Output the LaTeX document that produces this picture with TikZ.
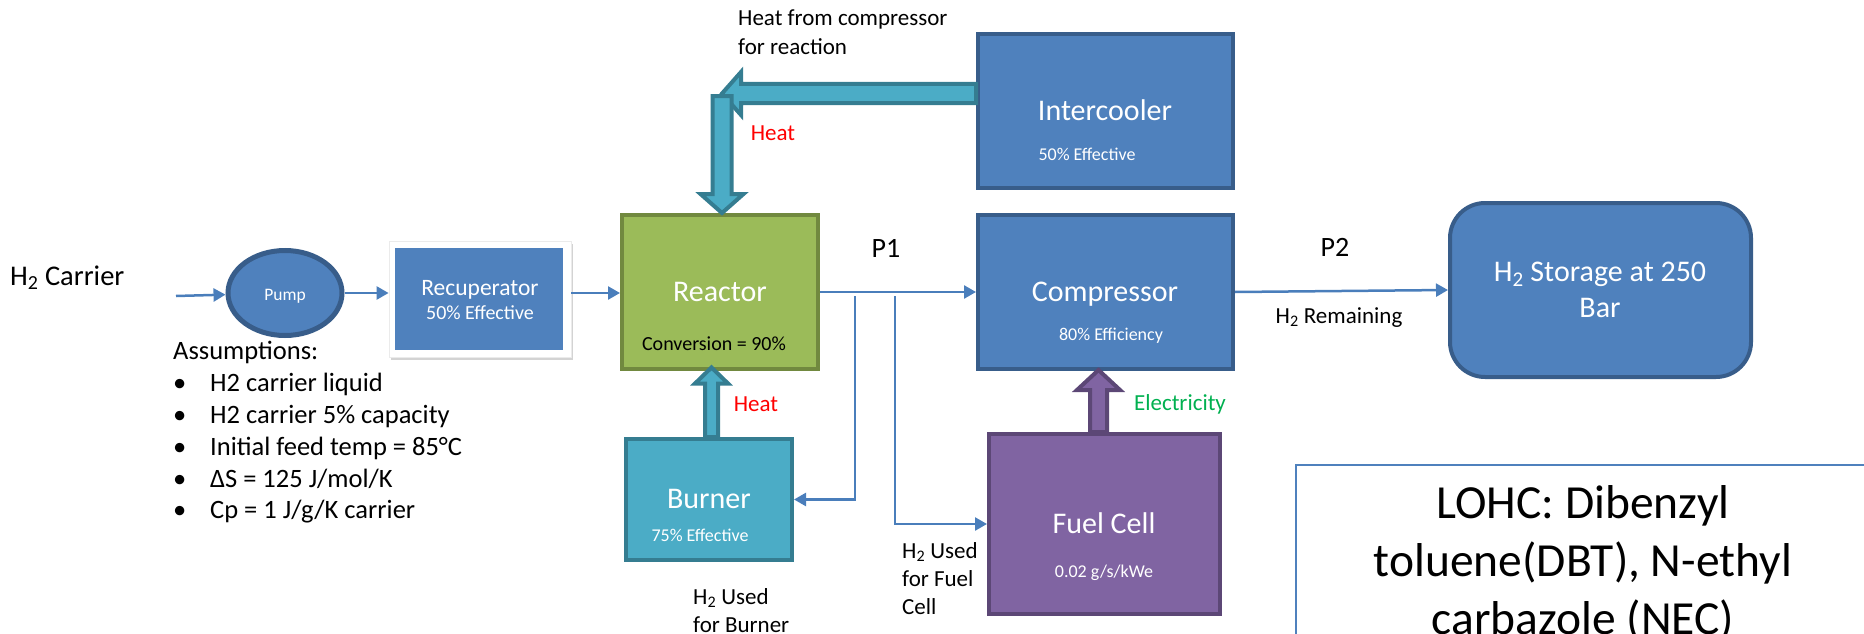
\documentclass[tikz,border=0pt]{standalone}
\usepackage{fontspec}
\setmainfont{Carlito}
\usetikzlibrary{arrows.meta,shapes.geometric,calc,shadows}

\definecolor{boxblue}{HTML}{4F81BD}
\definecolor{boxblueb}{HTML}{385D8A}
\definecolor{rgreen}{HTML}{9BBB59}
\definecolor{rgreenb}{HTML}{71893F}
\definecolor{tealf}{HTML}{4BACC6}
\definecolor{tealb}{HTML}{357D91}
\definecolor{purp}{HTML}{8064A2}
\definecolor{purpb}{HTML}{5C4776}
\definecolor{linec}{HTML}{4A7EBB}
\definecolor{elgreen}{HTML}{00B050}
\definecolor{heatred}{HTML}{FF0000}

\newcommand\fsz[1]{\fontsize{#1pt}{#1pt}\selectfont}

% vertical block arrow: style, start, tip, shaft half, head half, head length
\newcommand\vblock[6]{%
  \draw[#1] let \p1=(#2), \p2=(#3), \p3=($(\p2)!#6pt!(\p1)$) in
    (\x2-#4pt,\y1) -- (\x2-#4pt,\y3) -- (\x2-#5pt,\y3) -- (\x2,\y2)
    -- (\x2+#5pt,\y3) -- (\x2+#4pt,\y3) -- (\x2+#4pt,\y1) -- cycle;}
% horizontal block arrow
\newcommand\hblock[6]{%
  \draw[#1] let \p1=(#2), \p2=(#3), \p3=($(\p2)!#6pt!(\p1)$) in
    (\x1,\y2-#4pt) -- (\x3,\y2-#4pt) -- (\x3,\y2-#5pt) -- (\x2,\y2)
    -- (\x3,\y2+#5pt) -- (\x3,\y2+#4pt) -- (\x1,\y2+#4pt) -- cycle;}

\begin{document}
\begin{tikzpicture}[x=1pt,y=-1pt,
  box/.style={rectangle, line width=4pt, inner sep=0pt},
  flow/.style={draw=linec, line width=2.5pt, -{Triangle[length=12pt,width=13pt]}},
  heatarrow/.style={fill=tealf, draw=tealb, line width=4pt, line join=miter},
  elecarrow/.style={fill=purp, draw=purpb, line width=4pt, line join=miter},
  txt/.style={inner sep=0pt, anchor=base},
  txtw/.style={inner sep=0pt, anchor=base west},
]
\useasboundingbox (0,0) rectangle (1864,634);
\clip (0,0) rectangle (1864,634);

% ---------- boxes ----------
\node[ellipse, fill=boxblue, draw=boxblueb, line width=5pt, minimum width=114pt, minimum height=85pt, inner sep=0pt] (pump) at (285,293) {};
\node[rectangle, fill=white, draw=black!8, line width=0.8pt, minimum width=182pt, minimum height=116pt,
      drop shadow={shadow xshift=2pt, shadow yshift=-3pt, opacity=0.35}] (recupframe) at (480,299) {};
\node[rectangle, fill=boxblue, minimum width=168pt, minimum height=102pt, inner sep=0pt] (recup) at (479,299) {};
\node[box, fill=rgreen, draw=rgreenb, minimum width=196pt, minimum height=154pt] (reactor) at (720,292) {};
\node[box, fill=boxblue, draw=boxblueb, minimum width=255pt, minimum height=154pt] (intercooler) at (1105.5,111) {};
\node[box, fill=boxblue, draw=boxblueb, minimum width=255pt, minimum height=154pt] (compressor) at (1105.5,292) {};
\node[box, fill=boxblue, draw=boxblueb, minimum width=301pt, minimum height=174pt, rounded corners=35pt] (storage) at (1600.5,290) {};
\node[box, fill=tealf, draw=tealb, minimum width=166pt, minimum height=121pt] (burner) at (709,499.5) {};
\node[box, fill=purp, draw=purpb, minimum width=231pt, minimum height=180pt] (fuelcell) at (1104.5,524) {};
\node[rectangle, draw=boxblue, line width=2pt, fill=white, minimum width=700pt, minimum height=300pt, anchor=north west, inner sep=0pt] (lohcbox) at (1295,463.5) {};

% ---------- thin connectors ----------
\coordinate (cin) at (176,296);
\coordinate (b1) at (855,296);
\coordinate (b2) at (895,296);
\draw[flow] (cin) -- (pump);
\draw[flow] (pump.east) -- (pump.east -| recupframe.west);
\draw[flow] ([yshift=6pt]recupframe.east) -- ([yshift=6pt]recupframe.east -| reactor.west);
\draw[flow] (reactor.east) -- (compressor.west);
\draw[flow] (b1) |- (burner.east);
\draw[flow] (b2) |- (fuelcell.west);
\draw[flow] (compressor.east) -- (storage.west);

% ---------- block arrows ----------
\coordinate (hc) at (722,93.5);
\coordinate (bh) at (711.5,367.5);
\coordinate (el) at (1098.5,370);
\hblock{heatarrow}{intercooler.west |- hc}{hc}{9.5}{21.5}{19}
\vblock{heatarrow}{[yshift=-2.5pt]hc}{hc |- reactor.north}{9.5}{21.5}{19}
\vblock{heatarrow}{bh |- burner.north}{bh}{6.5}{16.5}{16}
\vblock{elecarrow}{el |- fuelcell.north}{el}{8.5}{21.5}{20}

% ---------- texts ----------
\node[txtw] (carrier) at (10,285) {\fsz{28.5}H\textsubscript{2} Carrier};
\node[txt, white] (pumpT) at (285,300) {\fsz{17.5}Pump};
\node[txt, white] (recT1) at (480,295) {\fsz{23.5}Recuperator};
\node[txt, white] (recT2) at (480,319) {\fsz{20}50\% Effective};
\node[txt, white] (reaT1) at (720,301.5) {\fsz{30}Reactor};
\node[txt] (reaT2) at (714,350) {\fsz{20}Conversion = 90\%};
\node[txt] (p1) at (886,257) {\fsz{28}P1};
\node[txtw] (hf1) at (738,26) {\fsz{23}Heat from compressor};
\node[txtw] (hf2) at (738,55) {\fsz{23}for reaction};
\node[txt, heatred] (heat1) at (773,140.7) {\fsz{23}Heat};
\node[txt, white] (intT1) at (1105,120) {\fsz{30}Intercooler};
\node[txt, white] (intT2) at (1087,160.7) {\fsz{18}50\% Effective};
\node[txt, white] (compT1) at (1105,301.5) {\fsz{30}Compressor};
\node[txt, white] (compT2) at (1111,340) {\fsz{18}80\% Efficiency};
\node[txt] (p2) at (1335,256.7) {\fsz{28}P2};
\node[txt] (rem) at (1339,323) {\fsz{23}H\textsubscript{2} Remaining};
\node[txt, white] (stT1) at (1600,281.7) {\fsz{30}H\textsubscript{2} Storage at 250};
\node[txt, white] (stT2) at (1600,317) {\fsz{30}Bar};
\node[txt, heatred] (heat2) at (756,411) {\fsz{23}Heat};
\node[txt, elgreen] (elec) at (1180,410.7) {\fsz{23}Electricity};
\node[txt, white] (burT1) at (709,508.3) {\fsz{30}Burner};
\node[txt, white] (burT2) at (700,541.7) {\fsz{18}75\% Effective};
\node[txt, white] (fcT1) at (1104,533.3) {\fsz{30}Fuel Cell};
\node[txt, white] (fcT2) at (1104,577.3) {\fsz{18}0.02 g/s/kWe};
\node[txtw] (ub1) at (693,604) {\fsz{23}H\textsubscript{2} Used};
\node[txtw] (ub2) at (693,632.7) {\fsz{23}for Burner};
\node[txtw] (uf1) at (902,558) {\fsz{23}H\textsubscript{2} Used};
\node[txtw] (uf2) at (902,586.7) {\fsz{23}for Fuel};
\node[txtw] (uf3) at (902,614) {\fsz{23}Cell};
\node[txt] (lohc1) at (1583,518) {\fsz{47.5}LOHC: Dibenzyl};
\node[txt] (lohc2) at (1583,576.5) {\fsz{47.5}toluene(DBT), N-ethyl};
\node[txt] (lohc3) at (1583,634) {\fsz{47.5}carbazole (NEC)};

\node[txtw] (as0) at (173,359.5) {\fsz{26.5}Assumptions:};
\node[txtw] (as1) at (173,391.5) {\fsz{26.5}\makebox[37pt][l]{\textbullet}H2 carrier liquid};
\node[txtw] (as2) at (173,423.5) {\fsz{26.5}\makebox[37pt][l]{\textbullet}H2 carrier 5\% capacity};
\node[txtw] (as3) at (173,455.5) {\fsz{26.5}\makebox[37pt][l]{\textbullet}Initial feed temp = 85°C};
\node[txtw] (as4) at (173,487) {\fsz{26.5}\makebox[37pt][l]{\textbullet}ΔS = 125 J/mol/K};
\node[txtw] (as5) at (173,518.5) {\fsz{26.5}\makebox[37pt][l]{\textbullet}Cp = 1 J/g/K carrier};
\end{tikzpicture}
\end{document}
